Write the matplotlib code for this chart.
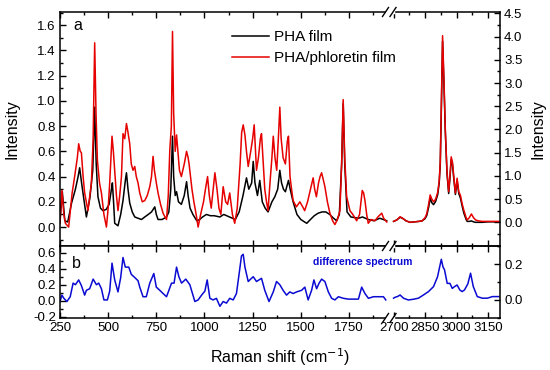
import numpy as np
import matplotlib
matplotlib.use("Agg")
import matplotlib.pyplot as plt
from matplotlib.ticker import MultipleLocator, FixedLocator, FormatStrFormatter
from matplotlib.lines import Line2D

plt.rcParams['font.family'] = ['Liberation Sans', 'DejaVu Sans']
plt.rcParams['axes.unicode_minus'] = False

# ---------------- data ----------------
# panel a, low-wavenumber region (left axis)
pha_left_x = [250, 262, 275, 290, 310, 330, 344, 352, 362, 373, 387, 405, 420, 430, 438, 447, 460, 473,
              490, 505, 517, 522, 528, 534, 551, 565, 577, 590, 595, 603, 612, 625, 638, 655, 673, 690,
              708, 725, 742, 750, 759, 780, 803, 815, 825, 834, 840, 848, 855, 865, 880, 895, 907, 915,
              925, 940, 960, 975, 990, 1010, 1030, 1050, 1080, 1100, 1130, 1160, 1180, 1200, 1218, 1230,
              1245, 1253, 1262, 1275, 1287, 1300, 1315, 1330, 1350, 1365, 1380, 1391, 1400, 1410, 1420,
              1436, 1445, 1460, 1480, 1500, 1520, 1531, 1550, 1570, 1590, 1610, 1630, 1650, 1670, 1686,
              1700, 1712, 1720, 1728, 1740, 1760, 1800, 1820, 1850, 1880, 1910, 1946]
pha_left_y = [0.05, 0.28, 0.05, 0.04, 0.19, 0.30, 0.40, 0.47, 0.35, 0.23, 0.08, 0.23, 0.45, 0.95, 0.50,
              0.24, 0.15, 0.13, 0.14, 0.18, 0.30, 0.35, 0.20, 0.03, 0.01, 0.10, 0.21, 0.38, 0.43, 0.30,
              0.19, 0.12, 0.08, 0.07, 0.06, 0.08, 0.10, 0.12, 0.16, 0.10, 0.06, 0.06, 0.08, 0.12, 0.30,
              0.72, 0.40, 0.25, 0.28, 0.20, 0.18, 0.25, 0.36, 0.25, 0.15, 0.10, 0.05, 0.06, 0.08, 0.10,
              0.09, 0.09, 0.08, 0.10, 0.08, 0.06, 0.12, 0.25, 0.39, 0.30, 0.35, 0.52, 0.35, 0.25, 0.37,
              0.20, 0.15, 0.12, 0.20, 0.24, 0.30, 0.45, 0.35, 0.30, 0.28, 0.37, 0.30, 0.20, 0.10, 0.06,
              0.04, 0.03, 0.06, 0.09, 0.11, 0.12, 0.12, 0.10, 0.07, 0.05, 0.10, 0.50, 0.98, 0.50, 0.12,
              0.08, 0.07, 0.08, 0.06, 0.05, 0.07, 0.05]

phl_left_x = [250, 260, 270, 278, 295, 313, 326, 340, 347, 355, 361, 370, 378, 395, 413, 422, 430, 437,
              444, 455, 465, 478, 491, 500, 508, 520, 527, 534, 543, 551, 560, 569, 577, 586, 595, 603,
              612, 620, 629, 638, 646, 655, 664, 677, 690, 703, 716, 725, 733, 740, 750, 759, 772, 785,
              795, 803, 812, 820, 828, 834, 840, 848, 855, 862, 870, 880, 895, 907, 915, 920, 935, 945,
              959, 967, 980, 995, 1005, 1016, 1025, 1035, 1045, 1054, 1065, 1075, 1085, 1097, 1110,
              1120, 1131, 1145, 1157, 1170, 1185, 1193, 1201, 1210, 1218, 1227, 1240, 1250, 1258, 1265,
              1270, 1280, 1290, 1296, 1305, 1313, 1322, 1330, 1340, 1350, 1357, 1366, 1375, 1385, 1391,
              1398, 1408, 1420, 1430, 1436, 1444, 1452, 1460, 1477, 1495, 1510, 1520, 1535, 1550, 1564,
              1572, 1581, 1592, 1600, 1608, 1616, 1625, 1638, 1651, 1665, 1677, 1690, 1703, 1712, 1720,
              1728, 1738, 1755, 1770, 1790, 1805, 1819, 1826, 1833, 1842, 1850, 1865, 1885, 1900, 1920,
              1930, 1946]
phl_left_y = [0.03, 0.29, 0.10, 0.03, 0.00, 0.27, 0.40, 0.55, 0.66, 0.60, 0.59, 0.40, 0.27, 0.13, 0.35,
              0.70, 1.46, 0.90, 0.53, 0.35, 0.27, 0.10, 0.00, 0.15, 0.35, 0.72, 0.60, 0.45, 0.25, 0.13,
              0.25, 0.40, 0.74, 0.70, 0.82, 0.75, 0.66, 0.50, 0.45, 0.48, 0.40, 0.35, 0.27, 0.20, 0.21,
              0.25, 0.32, 0.40, 0.56, 0.45, 0.35, 0.27, 0.18, 0.11, 0.08, 0.06, 0.25, 0.61, 0.80, 1.55,
              0.90, 0.60, 0.73, 0.60, 0.45, 0.40, 0.50, 0.60, 0.55, 0.50, 0.30, 0.20, 0.08, 0.00, 0.10,
              0.20, 0.30, 0.40, 0.25, 0.15, 0.30, 0.43, 0.30, 0.15, 0.10, 0.32, 0.20, 0.18, 0.27, 0.10,
              0.03, 0.15, 0.50, 0.75, 0.81, 0.73, 0.60, 0.48, 0.60, 0.70, 0.81, 0.60, 0.45, 0.55, 0.70,
              0.74, 0.50, 0.30, 0.20, 0.13, 0.35, 0.55, 0.72, 0.55, 0.45, 0.75, 0.95, 0.70, 0.55, 0.50,
              0.68, 0.72, 0.40, 0.30, 0.21, 0.16, 0.20, 0.16, 0.13, 0.20, 0.30, 0.39, 0.30, 0.24, 0.35,
              0.40, 0.43, 0.38, 0.32, 0.20, 0.11, 0.05, 0.02, 0.06, 0.13, 0.50, 1.01, 0.55, 0.24, 0.13,
              0.10, 0.05, 0.10, 0.29, 0.27, 0.21, 0.10, 0.03, 0.06, 0.05, 0.08, 0.11, 0.07, 0.04]

# panel a, C-H stretching region (right axis)
ch_x = [2700, 2715, 2731, 2745, 2760, 2779, 2800, 2820, 2835, 2850, 2858, 2867, 2874, 2882, 2890, 2900,
        2910, 2917, 2922, 2927, 2933, 2940, 2946, 2954, 2962, 2968, 2974, 2980, 2986, 2994, 3002, 3010,
        3018, 3026, 3034, 3045, 3050, 3060, 3070, 3080, 3090, 3105, 3122, 3150, 3180, 3206]
pha_ch_y = [0.02, 0.05, 0.11, 0.08, 0.03, 0.00, 0.01, 0.02, 0.03, 0.08, 0.15, 0.33, 0.52, 0.42, 0.38,
            0.45, 0.60, 0.85, 1.25, 2.40, 3.90, 2.90, 1.95, 1.05, 0.62, 0.95, 1.35, 1.25, 0.95, 0.60,
            0.90, 0.62, 0.52, 0.35, 0.20, 0.06, 0.02, 0.02, 0.03, 0.01, 0.00, 0.00, 0.00, 0.01, 0.01, 0.01]
phl_ch_y = [0.02, 0.05, 0.12, 0.08, 0.03, 0.00, 0.01, 0.02, 0.03, 0.10, 0.19, 0.40, 0.59, 0.50, 0.44,
            0.50, 0.65, 0.90, 1.30, 2.50, 4.02, 3.00, 2.00, 1.10, 0.66, 1.00, 1.41, 1.30, 1.00, 0.63,
            0.95, 0.66, 0.58, 0.40, 0.26, 0.10, 0.05, 0.10, 0.18, 0.10, 0.05, 0.03, 0.02, 0.02, 0.02, 0.02]

# panel b, difference spectrum
diff_left_x = [250, 260, 270, 286, 303, 318, 330, 347, 361, 378, 387, 404, 422, 439, 451, 465, 478, 496,
               508, 520, 534, 551, 565, 577, 589, 607, 620, 638, 655, 664, 681, 698, 716, 737, 750, 768,
               785, 803, 829, 842, 855, 867, 881, 903, 924, 950, 967, 985, 1002, 1014, 1028, 1045, 1062,
               1080, 1097, 1114, 1131, 1149, 1166, 1180, 1192, 1201, 1210, 1227, 1244, 1253, 1270, 1296,
               1313, 1335, 1357, 1374, 1391, 1408, 1426, 1443, 1460, 1478, 1504, 1521, 1538, 1556, 1568,
               1582, 1595, 1608, 1625, 1643, 1660, 1677, 1695, 1721, 1747, 1773, 1799, 1816, 1833, 1851,
               1877, 1903, 1929, 1941]
diff_left_y = [-0.01, 0.07, 0.03, -0.01, 0.05, 0.22, 0.20, 0.26, 0.19, 0.07, 0.13, 0.15, 0.27, 0.20, 0.22,
               0.15, 0.01, 0.01, 0.12, 0.47, 0.26, 0.11, 0.29, 0.54, 0.42, 0.42, 0.33, 0.29, 0.25, 0.17,
               0.05, 0.05, 0.22, 0.34, 0.17, 0.13, 0.09, 0.05, 0.22, 0.22, 0.42, 0.30, 0.22, 0.27, 0.20,
               -0.01, 0.01, 0.07, 0.12, 0.26, 0.03, 0.01, 0.03, -0.07, -0.01, -0.03, 0.03, 0.01, 0.09,
               0.34, 0.56, 0.58, 0.42, 0.24, 0.28, 0.30, 0.24, 0.28, 0.13, -0.01, 0.11, 0.24, 0.20, 0.13,
               0.07, 0.11, 0.09, 0.11, 0.13, 0.17, 0.01, 0.13, 0.26, 0.15, 0.22, 0.27, 0.24, 0.11, 0.03,
               0.01, 0.05, 0.03, 0.02, 0.02, 0.02, 0.17, 0.09, 0.03, 0.05, 0.05, 0.05, 0.01]
diff_right_x = [2700, 2707, 2720, 2731, 2747, 2770, 2794, 2818, 2842, 2866, 2890, 2909, 2919, 2927, 2935,
                2942, 2955, 2968, 2979, 2990, 3002, 3015, 3026, 3037, 3053, 3066, 3079, 3098, 3122, 3146,
                3170, 3201]
diff_right_y = [0.01, 0.015, 0.02, 0.028, 0.01, 0.00, 0.004, 0.01, 0.028, 0.047, 0.075, 0.13, 0.185, 0.228,
                0.185, 0.17, 0.093, 0.093, 0.065, 0.075, 0.084, 0.056, 0.047, 0.056, 0.09, 0.15, 0.075,
                0.019, 0.01, 0.01, 0.019, 0.019]

xticks_left = [250, 500, 750, 1000, 1250, 1500, 1750]
xticks_right = [2700, 2850, 3000, 3150]
yticks_a_left = [0.0, 0.2, 0.4, 0.6, 0.8, 1.0, 1.2, 1.4, 1.6]
yticks_a_right = [0.0, 0.5, 1.0, 1.5, 2.0, 2.5, 3.0, 3.5, 4.0, 4.5]
yticks_b_left = [-0.2, 0.0, 0.2, 0.4, 0.6]
yticks_b_right = [0.0, 0.2]

# ---------------- figure ----------------
W, H = 550, 370
fig = plt.figure(figsize=(W / 100, H / 100), dpi=100)


def fx(px):
    return px / W


def fy(py):
    return 1 - py / H


xl0, xbrk, xr1 = 60, 390, 500
ya0, yab, yb1 = 12, 246, 318

ax_al = fig.add_axes([fx(xl0), fy(yab), fx(xbrk) - fx(xl0), fy(ya0) - fy(yab)])
ax_ar = fig.add_axes([fx(xbrk), fy(yab), fx(xr1) - fx(xbrk), fy(ya0) - fy(yab)])
ax_bl = fig.add_axes([fx(xl0), fy(yb1), fx(xbrk) - fx(xl0), fy(yab) - fy(yb1)])
ax_br = fig.add_axes([fx(xbrk), fy(yb1), fx(xr1) - fx(xbrk), fy(yab) - fy(yb1)])
for ax in (ax_ar, ax_br):
    ax.patch.set_visible(False)

lw = 1.1
red = '#e60000'
blue = '#0a0ad2'

ax_al.plot(pha_left_x, pha_left_y, color='black', lw=lw, label='PHA film')
ax_al.plot(phl_left_x, phl_left_y, color=red, lw=lw, label='PHA/phloretin film')
ax_ar.plot(ch_x, pha_ch_y, color='black', lw=lw)
ax_ar.plot(ch_x, phl_ch_y, color=red, lw=lw)
ax_bl.plot(diff_left_x, diff_left_y, color=blue, lw=lw)
ax_br.plot(diff_right_x, diff_right_y, color=blue, lw=lw)

for ax in (ax_al, ax_bl):
    ax.set_xlim(250, 1963)
    ax.xaxis.set_major_locator(FixedLocator(xticks_left))
    ax.xaxis.set_minor_locator(MultipleLocator(125))
    ax.spines['right'].set_visible(False)
    ax.tick_params(axis='y', which='both', left=True, right=False)
for ax in (ax_ar, ax_br):
    ax.set_xlim(2683, 3206)
    ax.xaxis.set_major_locator(FixedLocator(xticks_right))
    ax.xaxis.set_minor_locator(MultipleLocator(75))
    ax.spines['left'].set_visible(False)
    ax.yaxis.tick_right()
    ax.tick_params(axis='y', which='both', left=False, right=True, labelleft=False, labelright=True)

ax_al.set_ylim(-0.15, 1.704)
ax_al.yaxis.set_major_locator(FixedLocator(yticks_a_left))
ax_al.yaxis.set_minor_locator(MultipleLocator(0.1))
ax_ar.set_ylim(-0.51, 4.53)
ax_ar.yaxis.set_major_locator(FixedLocator(yticks_a_right))
ax_ar.yaxis.set_minor_locator(MultipleLocator(0.25))
ax_bl.set_ylim(-0.216, 0.684)
ax_bl.yaxis.set_major_locator(FixedLocator(yticks_b_left))
ax_bl.yaxis.set_minor_locator(MultipleLocator(0.1))
ax_br.set_ylim(-0.101, 0.3025)
ax_br.yaxis.set_major_locator(FixedLocator(yticks_b_right))
ax_br.yaxis.set_minor_locator(MultipleLocator(0.1))

for ax in (ax_al, ax_ar, ax_bl, ax_br):
    ax.yaxis.set_major_formatter(FormatStrFormatter('%.1f'))
    ax.tick_params(axis='both', which='both', direction='in', labelsize=9.5, width=1.0, pad=3)
    ax.tick_params(axis='both', which='major', length=4)
    ax.tick_params(axis='both', which='minor', length=2.5)
    ax.tick_params(axis='x', which='both', top=True, bottom=True)
    for s in ax.spines.values():
        s.set_linewidth(1.1)
for ax in (ax_al, ax_ar):
    ax.tick_params(axis='x', labelbottom=False)

# texts
fig.text(fx(78), fy(26), 'a', fontsize=11.5, ha='center', va='center')
fig.text(fx(76), fy(263), 'b', fontsize=11.5, ha='center', va='center')
fig.text(fx(363), fy(262), 'difference spectrum', color=blue, fontsize=7.5, fontweight='bold',
         ha='center', va='center')
fig.text(fx(12), fy(129), 'Intensity', rotation=90, fontsize=11.5, ha='center', va='center')
fig.text(fx(538), fy(129), 'Intensity', rotation=90, fontsize=11.5, ha='center', va='center')
fig.text(fx(280), fy(357), 'Raman shift (cm$^{-1}$)', fontsize=11.5, ha='center', va='center')

leg = ax_al.legend(loc='upper left', bbox_to_anchor=(fx(232), fy(30)), bbox_transform=fig.transFigure,
                   frameon=False, fontsize=11, handlelength=2.4, handletextpad=0.35, labelspacing=0.45,
                   borderpad=0, borderaxespad=0)
leg.set_zorder(20)

# axis-break marks
for yy in (ya0, yab, yb1):
    fig.add_artist(Line2D([fx(386.5), fx(392.5)], [fy(yy), fy(yy)], color='white', lw=2.5,
                          transform=fig.transFigure))
    for cx in (385.5, 393.0):
        fig.add_artist(Line2D([fx(cx - 3), fx(cx + 3)], [fy(yy + 4.5), fy(yy - 4.5)], color='black',
                              lw=1.0, transform=fig.transFigure))

fig.savefig('out.png', dpi=100)
